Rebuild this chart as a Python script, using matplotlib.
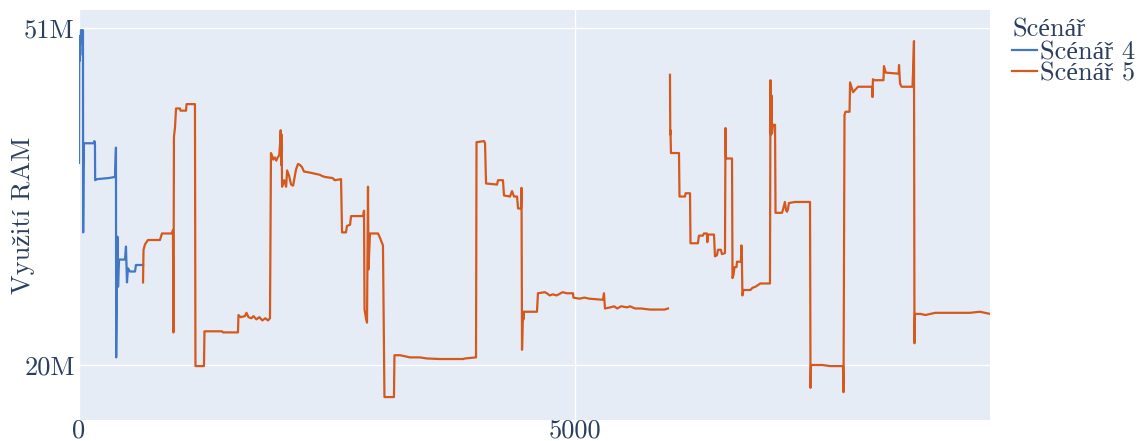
import numpy as np
import matplotlib
matplotlib.use("Agg")
import matplotlib.pyplot as plt

# memory usage over time (x = sample index, y = RAM in MB)
s4_x = [0, 2, 5, 8, 10, 12, 15, 18, 20, 25, 30, 40, 42, 46, 50, 150, 155, 161, 163, 182,
        300, 363, 373, 375, 383, 388, 394, 404, 464, 474, 484, 494, 515, 565, 575, 646]
s4_y = [38.6, 47.5, 49.2, 48.0, 50.0, 48.5, 50.3, 49.6, 50.8, 50.5, 50.8, 50.8, 32.2, 38.0,
        40.4, 40.4, 40.6, 40.4, 37.0, 37.1, 37.2, 37.3, 40.0, 20.7, 27.8, 31.8, 27.2, 29.7,
        29.7, 30.9, 27.6, 28.9, 28.6, 28.6, 29.2, 29.2]

s5_x = [646, 651, 666, 696, 817, 837, 938, 948, 953, 958, 969, 979, 1019, 1024, 1080, 1085,
        1170, 1175, 1261, 1266, 1443, 1453, 1604, 1609, 1630, 1675, 1690, 1710, 1740, 1760,
        1790, 1820, 1850, 1880, 1907, 1927, 1937, 1950, 1960, 1975, 1990, 2005, 2020, 2030,
        2035, 2040, 2044, 2049, 2070, 2090, 2100, 2120, 2140, 2160, 2190, 2210, 2230, 2250,
        2270, 2330, 2430, 2450, 2480, 2560, 2580, 2644, 2654, 2694, 2704, 2735, 2745, 2866,
        2876, 2881, 2896, 2906, 2916, 2921, 2936, 3017, 3037, 3067, 3082, 3178, 3183, 3240,
        3340, 3440, 3510, 3640, 3875, 3895, 4006, 4011, 4087, 4097, 4107, 4218, 4228, 4278,
        4288, 4349, 4369, 4389, 4420, 4430, 4460, 4465, 4470, 4480, 4485, 4490, 4621, 4631,
        4700, 4720, 4750, 4780, 4820, 4880, 4920, 4984, 4989, 5050, 5100, 5150, 5287, 5297,
        5307, 5360, 5400, 5430, 5470, 5530, 5560, 5610, 5670, 5760, 5910, 5943,
        np.nan,
        5963, 5966, 5968, 5973, 6054, 6059, 6115, 6120, 6165, 6170, 6245, 6255, 6295, 6305,
        6335, 6340, 6345, 6407, 6417, 6437, 6447, 6477, 6487, 6518, 6523, 6528, 6589, 6594,
        6604, 6614, 6634, 6639, 6679, 6684, 6689, 6694, 6704, 6775, 6795, 6825, 6875, 6972,
        6977, 6982, 6987, 6992, 7002, 7023, 7028, 7093, 7103, 7123, 7133, 7143, 7153, 7163,
        7224, 7376, 7381, 7386, 7500, 7580, 7709, 7714, 7724, 7734, 7775, 7780, 7810, 7830,
        7860, 8001, 8006, 8011, 8016, 8117, 8122, 8140, 8270, 8274, 8284, 8300, 8410, 8415,
        8425, 8430, 8435, 8490, 8540, 8590, 8640, 8840, 8990, 9091, 9192]
s5_y = [27.6, 30.6, 31.1, 31.5, 31.5, 32.1, 32.1, 32.4, 23.0, 41.0, 41.9, 43.6, 43.6, 43.4,
        43.4, 44.0, 44.0, 19.9, 19.9, 23.1, 23.1, 23.0, 23.0, 24.6, 24.4, 24.5, 24.8, 24.4,
        24.3, 24.5, 24.2, 24.4, 24.1, 24.3, 24.1, 24.3, 39.5, 39.2, 38.9, 39.1, 38.8, 39.1,
        39.3, 40.5, 41.6, 38.4, 41.2, 36.4, 37.0, 36.4, 37.9, 37.4, 36.6, 36.5, 38.0, 38.5,
        38.4, 38.2, 37.8, 37.7, 37.5, 37.4, 37.3, 37.2, 37.0, 37.1, 32.2, 32.2, 32.8, 32.9,
        33.7, 33.7, 34.2, 25.1, 24.3, 23.9, 36.4, 28.8, 32.1, 32.1, 31.7, 31.0, 17.05, 17.05,
        20.9, 20.9, 20.7, 20.7, 20.6, 20.55, 20.55, 20.6, 20.7, 40.5, 40.6, 40.4, 36.7, 36.6,
        37.0, 37.0, 35.6, 35.5, 36.0, 35.5, 35.5, 34.4, 34.4, 36.3, 21.4, 24.9, 24.2, 24.9,
        24.9, 26.6, 26.7, 26.6, 26.4, 26.5, 26.4, 26.7, 26.6, 26.6, 26.2, 26.1, 26.2, 26.1,
        26.0, 26.6, 25.2, 25.3, 25.4, 25.2, 25.4, 25.3, 25.4, 25.2, 25.2, 25.1, 25.1, 25.2,
        np.nan,
        46.7, 41.2, 41.6, 39.5, 39.5, 35.5, 35.5, 35.8, 35.8, 31.2, 31.2, 31.9, 31.9, 32.1,
        32.1, 31.3, 32.0, 32.0, 30.0, 30.1, 30.6, 30.6, 30.2, 30.3, 41.8, 39.0, 39.0, 28.0,
        28.3, 29.0, 29.0, 29.5, 29.5, 31.0, 29.5, 26.4, 26.9, 26.9, 27.1, 27.2, 27.5, 27.5,
        46.2, 41.2, 44.8, 41.3, 42.1, 42.1, 34.0, 34.0, 34.3, 35.0, 34.3, 34.1, 34.3, 34.9,
        35.0, 35.0, 17.9, 20.0, 20.0, 19.9, 19.9, 17.5, 43.0, 43.3, 43.3, 46.0, 45.1, 45.3,
        45.6, 45.6, 44.65, 46.3, 46.2, 46.2, 47.5, 46.9, 46.8, 47.6, 45.9, 45.6, 45.6, 46.8,
        49.8, 22.0, 24.7, 24.7, 24.6, 24.7, 24.8, 24.8, 24.8, 24.9, 24.7]

y_ticks = [20, 51]
y_tick_labels = ["20M", "51M"]
x_ticks = [0, 5000]
x_tick_labels = ["0", "5000"]

# cmr10 has no accented letters, Liberation Serif fills them in
plt.rcParams['font.family'] = ['cmr10', 'Liberation Serif']
text_color = '#2a3f5f'
fs = 19

fig = plt.figure(figsize=(11.43, 4.41), dpi=100)
ax = fig.add_axes([79 / 1143, 21 / 441, 911 / 1143, 410 / 441])
ax.set_facecolor('#e5ecf6')

ax.plot(s4_x, s4_y, color='#4277c6', lw=1.6, label='Scénář 4')
ax.plot(s5_x, s5_y, color='#d5581d', lw=1.6, label='Scénář 5')

ax.set_xlim(0, 9192)
ax.set_ylim(14.94, 52.66)
ax.set_xticks(x_ticks)
ax.set_xticklabels(x_tick_labels)
ax.set_yticks(y_ticks)
ax.set_yticklabels(y_tick_labels)
ax.tick_params(length=0, labelsize=fs, colors=text_color)
ax.tick_params(axis='x', pad=-1)
ax.tick_params(axis='y', pad=3)
ax.grid(True, color='white', lw=1)
ax.set_axisbelow(True)
for s in ax.spines.values():
    s.set_visible(False)

ax.set_ylabel('Využití RAM', fontsize=fs, color=text_color)
ax.yaxis.set_label_coords(-0.048, 0.5)

leg = fig.legend(loc='upper left', bbox_to_anchor=(1012 / 1143, 1 - 18 / 441), frameon=False,
                 title='Scénář', fontsize=fs, title_fontsize=fs, handlelength=0.95,
                 handletextpad=0.12, labelspacing=-0.08, borderaxespad=0, borderpad=0)
leg._legend_box.align = 'left'
leg._legend_box.sep = -1
for t in leg.get_texts():
    t.set_color(text_color)
leg.get_title().set_color(text_color)

fig.savefig('out.png', dpi=100)
